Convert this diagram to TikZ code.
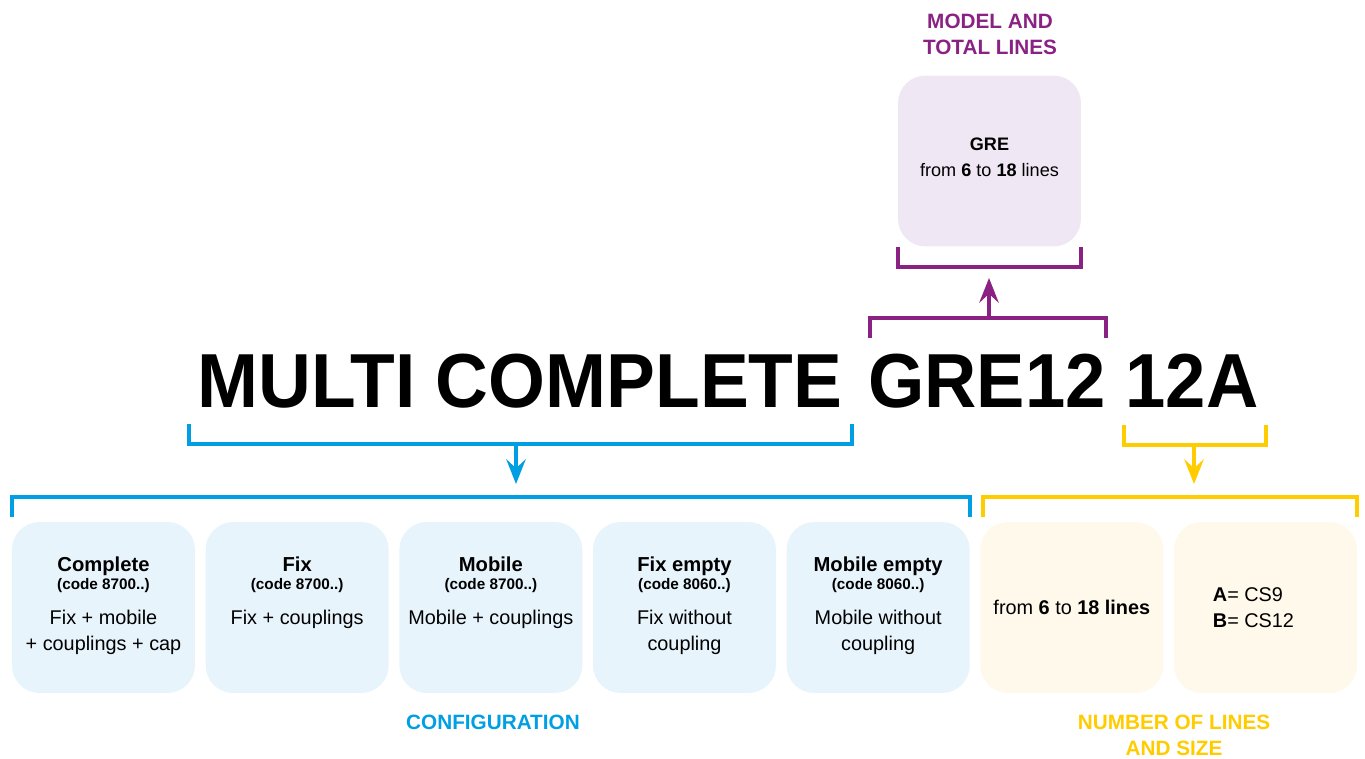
\documentclass[tikz,border=0pt]{standalone}
\usepackage{fontspec}
\setmainfont{Liberation Sans}
\usetikzlibrary{positioning, arrows.meta}
\definecolor{cfgblue}{RGB}{0,159,227}
\definecolor{cfgfill}{RGB}{232,244,252}
\definecolor{modelpurple}{RGB}{138,34,131}
\definecolor{modelfill}{RGB}{239,231,244}
\definecolor{sizeyellow}{RGB}{255,204,0}
\definecolor{sizefill}{RGB}{255,249,235}
\tikzset{
    optbox/.style={rectangle, minimum width=3.66cm, minimum height=3.42cm, rounded corners=0.55cm, draw=none, inner sep=0pt},
    cfgbox/.style={optbox, fill=cfgfill},
    sizebox/.style={optbox, fill=sizefill},
    modelbox/.style={optbox, fill=modelfill},
    bracket/.style={line width=2.4pt},
    arrow/.style={bracket, -{Stealth[length=14pt, width=11pt, inset=5pt]}},
    codeword/.style={font=\fontsize{43.6}{50}\selectfont\bfseries, anchor=base, inner sep=0pt},
    optname/.style={font=\fontsize{11.5}{14}\selectfont\bfseries, anchor=base, inner sep=0pt},
    optcode/.style={font=\fontsize{8.7}{10}\selectfont\bfseries, anchor=base, inner sep=0pt},
    optdesc/.style={font=\fontsize{11.3}{14.74}\selectfont, align=center, anchor=base, inner sep=0pt},
    grouplabel/.style={font=\fontsize{11.8}{14.74}\selectfont\bfseries, align=center, anchor=base, inner sep=0pt}
}
\begin{document}
\begin{tikzpicture}[x=0.02cm, y=-0.02cm]
        \useasboundingbox (0,0) rectangle (1365,758);

        % the code itself
        \node (multi) [codeword] at (520,407) {\scalebox{0.955}[1]{MULTI COMPLETE}};
        \node (gre) [codeword] at (987,407) {\scalebox{0.945}[1]{GRE12}};
        \node (size) [codeword] at (1192,407) {\scalebox{0.945}[1]{12A}};

        % configuration (two-line texts sit on their last line)
        \node (cfgA) [cfgbox] at (103.5,607.5) {};
        \node (cfgB) [cfgbox, right=0.2cm of cfgA] {};
        \node (cfgC) [cfgbox, right=0.2cm of cfgB] {};
        \node (cfgD) [cfgbox, right=0.2cm of cfgC] {};
        \node (cfgE) [cfgbox, right=0.2cm of cfgD] {};

        \node (cfgAname) [optname] at ([yshift=-1cm]cfgA.north) {Complete};
        \node (cfgAcode) [optcode] at ([yshift=-1.36cm]cfgA.north) {(code 8700..)};
        \node (cfgAdesc) [optdesc] at ([yshift=-2.58cm]cfgA.north) {Fix + mobile\\+ couplings + cap};
        \node (cfgBname) [optname] at ([yshift=-1cm]cfgB.north) {Fix};
        \node (cfgBcode) [optcode] at ([yshift=-1.36cm]cfgB.north) {(code 8700..)};
        \node (cfgBdesc) [optdesc] at ([yshift=-2.06cm]cfgB.north) {Fix + couplings};
        \node (cfgCname) [optname] at ([yshift=-1cm]cfgC.north) {Mobile};
        \node (cfgCcode) [optcode] at ([yshift=-1.36cm]cfgC.north) {(code 8700..)};
        \node (cfgCdesc) [optdesc] at ([yshift=-2.06cm]cfgC.north) {Mobile + couplings};
        \node (cfgDname) [optname] at ([yshift=-1cm]cfgD.north) {Fix empty};
        \node (cfgDcode) [optcode] at ([yshift=-1.36cm]cfgD.north) {(code 8060..)};
        \node (cfgDdesc) [optdesc] at ([yshift=-2.58cm]cfgD.north) {Fix without\\coupling};
        \node (cfgEname) [optname] at ([yshift=-1cm]cfgE.north) {Mobile empty};
        \node (cfgEcode) [optcode] at ([yshift=-1.36cm]cfgE.north) {(code 8060..)};
        \node (cfgEdesc) [optdesc] at ([yshift=-2.58cm]cfgE.north) {Mobile without\\coupling};

        \node (cfglabel) [grouplabel, text=cfgblue] at (493,729) {CONFIGURATION};

        % number of lines and size
        \node (sizeA) [sizebox, right=0.2cm of cfgE] {};
        \node (sizeB) [sizebox, right=0.2cm of sizeA] {};
        \node (sizeAdesc) [optdesc] at ([yshift=-1.86cm]sizeA.north) {from \textbf{6} to \textbf{18 lines}};
        \node (sizeBdesc) [optdesc, align=left] at ([xshift=-0.24cm, yshift=-2.12cm]sizeB.north) {\textbf{A}= CS9\\\textbf{B}= CS12};

        \node (sizelabel) [grouplabel, text=sizeyellow] at (1174,755) {NUMBER OF LINES\\AND SIZE};

        % model and total lines
        \node (model) [modelbox] at (989.5,161) {};
        \node (modelname) [optname, font=\fontsize{10.3}{14}\selectfont\bfseries] at ([yshift=-1.51cm]model.north) {GRE};
        \node (modeldesc) [optdesc, font=\fontsize{10.3}{14}\selectfont] at ([yshift=-2.03cm]model.north) {from \textbf{6} to \textbf{18} lines};
        \node (modellabel) [grouplabel, text=modelpurple] at (990,54) {MODEL AND\\TOTAL LINES};

        % brackets
        \draw [bracket, cfgblue] (189,424) |- (852,444) -- (852,424);
        \draw [bracket, cfgblue] (12,517) |- (970,497) -- (970,517);
        \draw [bracket, sizeyellow] (1124,425) |- (1266,445) -- (1266,425);
        \draw [bracket, sizeyellow] (983,517) |- (1357,497) -- (1357,517);
        \draw [bracket, modelpurple] (870,338) |- (1106,318) -- (1106,338);
        \draw [bracket, modelpurple] (898,247) |- (1081,267) -- (1081,247);

        \coordinate (cfgfrom) at (516,444);
        \coordinate (cfgto) at (516,484);
        \coordinate (sizefrom) at (1194,445);
        \coordinate (sizeto) at (1194,484);
        \coordinate (modelfrom) at (989,318);
        \coordinate (modelto) at (989,278);
        \draw [arrow, cfgblue] (cfgfrom) -- (cfgto);
        \draw [arrow, sizeyellow] (sizefrom) -- (sizeto);
        \draw [arrow, modelpurple] (modelfrom) -- (modelto);
    \end{tikzpicture}
\end{document}
